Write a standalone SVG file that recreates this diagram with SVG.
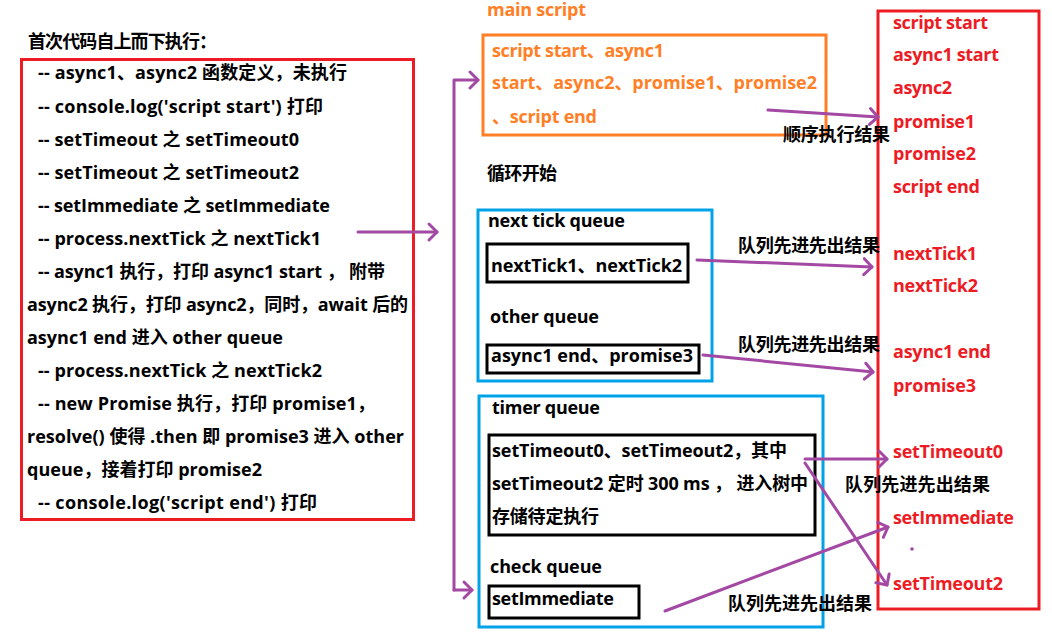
<svg xmlns="http://www.w3.org/2000/svg" width="1052" height="635" viewBox="0 0 1052 635">
<style>
.t{font-family:"Open Sans","Noto Sans CJK SC",sans-serif;font-weight:700;font-size:18px;fill:#000}
.o{fill:#FF7F27}
.r{fill:#ED1C24}
.bx{fill:none;stroke-width:3}
.red{stroke:#ED1C24}
.org{stroke:#FF7F27}
.blu{stroke:#00A2E8}
.blk{stroke:#000}
.c{fill:none;stroke:#A349A4;stroke-width:3;stroke-linecap:round;stroke-linejoin:round}
</style>
<defs>
<marker id="ah" markerUnits="userSpaceOnUse" markerWidth="20" markerHeight="20" refX="10" refY="10" orient="auto" overflow="visible">
<path d="M2,2 L10,10 L2,18" fill="none" stroke="#A349A4" stroke-width="3" stroke-linecap="round" stroke-linejoin="round"/>
</marker>
</defs>
<rect width="1052" height="635" fill="#fff"/>

<g id="source">
<text class="t" x="28" y="48" textLength="189">首次代码自上而下执行：</text>
<rect class="bx red" x="21.5" y="59.5" width="392" height="460"/>
<text class="t" x="38" y="79" textLength="309">-- async1、async2 函数定义，未执行</text>
<text class="t" x="38" y="113" textLength="285">-- console.log('script start') 打印</text>
<text class="t" x="38" y="146" textLength="261">-- setTimeout 之 setTimeout0</text>
<text class="t" x="38" y="179" textLength="261">-- setTimeout 之 setTimeout2</text>
<text class="t" x="38" y="212" textLength="292">-- setImmediate 之 setImmediate</text>
<text class="t" x="38" y="245" textLength="283">-- process.nextTick 之 nextTick1</text>
<text class="t" x="38" y="278" textLength="347">-- async1 执行，打印 async1 start ， 附带</text>
<text class="t" x="27" y="311" textLength="381">async2 执行，打印 async2，同时，await 后的</text>
<text class="t" x="27" y="344" textLength="256">async1 end 进入 other queue</text>
<text class="t" x="38" y="377" textLength="284">-- process.nextTick 之 nextTick2</text>
<text class="t" x="38" y="410" textLength="337">-- new Promise 执行，打印 promise1，</text>
<text class="t" x="27" y="443" textLength="377">resolve() 使得 .then 即 promise3 进入 other</text>
<text class="t" x="27" y="476" textLength="235">queue，接着打印 promise2</text>
<text class="t" x="38" y="509" textLength="279">-- console.log('script end') 打印</text>
</g>

<g id="main-script">
<text class="t o" x="487" y="16" textLength="99">main script</text>
<rect class="bx org" x="483" y="35" width="343" height="100"/>
<text class="t o" x="492" y="57" textLength="172">script start、async1</text>
<text class="t o" x="492" y="89" textLength="325">start、async2、promise1、promise2</text>
<text class="t o" x="492" y="123" textLength="105">、script end</text>
</g>

<g id="loop-label">
<text class="t" x="487" y="180" textLength="70">循环开始</text>
</g>

<g id="tick-other">
<rect class="bx blu" x="478" y="210" width="234" height="171"/>
<text class="t" x="488" y="227" textLength="137">next tick queue</text>
<rect class="bx blk" x="487" y="244" width="201" height="38"/>
<text class="t" x="491" y="272" textLength="191">nextTick1、nextTick2</text>
<text class="t" x="490" y="323" textLength="109">other queue</text>
<rect class="bx blk" x="487" y="345" width="212" height="28"/>
<text class="t" x="491" y="362" textLength="202">async1 end、promise3</text>
</g>

<g id="timer-check">
<rect class="bx blu" x="479" y="396" width="344" height="231"/>
<text class="t" x="492" y="414" textLength="108">timer queue</text>
<rect class="bx blk" x="489" y="435" width="326" height="100"/>
<text class="t" x="492" y="457" textLength="295">setTimeout0、setTimeout2，其中</text>
<text class="t" x="492" y="490" textLength="316">setTimeout2 定时 300 ms ， 进入树中</text>
<text class="t" x="492" y="523" textLength="107">存储待定执行</text>
<text class="t" x="490" y="573" textLength="112">check queue</text>
<rect class="bx blk" x="489" y="586" width="150" height="32"/>
<text class="t" x="492" y="605" textLength="122">setImmediate</text>
</g>

<g id="result">
<rect class="bx red" x="878" y="11" width="161" height="598"/>
<text class="t r" x="893" y="29" textLength="95">script start</text>
<text class="t r" x="893" y="61" textLength="106">async1 start</text>
<text class="t r" x="893" y="94" textLength="59">async2</text>
<text class="t r" x="893" y="128" textLength="82">promise1</text>
<text class="t r" x="893" y="160" textLength="83">promise2</text>
<text class="t r" x="893" y="193" textLength="87">script end</text>
<text class="t r" x="893" y="260" textLength="84">nextTick1</text>
<text class="t r" x="893" y="292" textLength="85">nextTick2</text>
<text class="t r" x="893" y="358" textLength="98">async1 end</text>
<text class="t r" x="893" y="392" textLength="83">promise3</text>
<text class="t r" x="893" y="458" textLength="110">setTimeout0</text>
<text class="t r" x="893" y="524" textLength="121">setImmediate</text>
<text class="t r" x="893" y="590" textLength="110">setTimeout2</text>
</g>

<g id="connectors">
<path class="c" d="M358,232 L437,232" marker-end="url(#ah)"/>
<path class="c" d="M454,590 L454,80 L478,80" marker-end="url(#ah)"/>
<path class="c" d="M454,590 L472,590" marker-end="url(#ah)"/>
<path class="c" d="M768,110 L878,117" marker-end="url(#ah)"/>
<path class="c" d="M697,260 L872,267" marker-end="url(#ah)"/>
<path class="c" d="M703,355 L873,372" marker-end="url(#ah)"/>
<path class="c" d="M805,459 L887,459" marker-end="url(#ah)"/>
<path class="c" d="M805,463 L887,585" marker-end="url(#ah)"/>
<path class="c" d="M665,611 L888,527" marker-end="url(#ah)"/>
<circle cx="912" cy="549" r="1.8" fill="#A349A4"/>
</g>

<g id="labels">
<text class="t" x="783" y="141" textLength="107">顺序执行结果</text>
<text class="t" x="738" y="252" textLength="142">队列先进先出结果</text>
<text class="t" x="738" y="351" textLength="142">队列先进先出结果</text>
<text class="t" x="845" y="491" textLength="145">队列先进先出结果</text>
<text class="t" x="728" y="610" textLength="144">队列先进先出结果</text>
</g>
</svg>
